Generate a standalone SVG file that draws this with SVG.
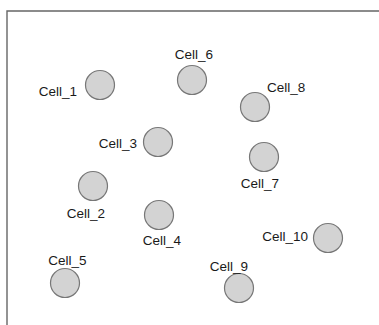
<svg xmlns="http://www.w3.org/2000/svg" width="379" height="325" viewBox="0 0 379 325">
  <style>
    .frame { fill: none; stroke: #666666; stroke-width: 1.4; }
    .cell circle { fill: #d3d3d3; stroke: #777777; stroke-width: 1.2; }
    .cell text { font-family: "Liberation Sans", Arial, sans-serif; font-size: 13.5px; fill: #1a1a1a; }
  </style>
  <rect width="379" height="325" fill="#ffffff"/>
  <!-- plot frame: top and left edges only -->
  <path class="frame" d="M7,326 V11 H380"/>
  <g id="connectors"/>
  <g id="cell_1" class="cell"><circle cx="100" cy="85" r="14.5"/><text x="77" y="96" text-anchor="end">Cell_1</text></g>
  <g id="cell_2" class="cell"><circle cx="93" cy="186" r="14.5"/><text x="86" y="218" text-anchor="middle">Cell_2</text></g>
  <g id="cell_3" class="cell"><circle cx="158" cy="142" r="14.5"/><text x="137" y="148" text-anchor="end">Cell_3</text></g>
  <g id="cell_4" class="cell"><circle cx="159" cy="215" r="14.5"/><text x="162" y="245" text-anchor="middle">Cell_4</text></g>
  <g id="cell_5" class="cell"><circle cx="65" cy="283" r="14.5"/><text x="67.5" y="265" text-anchor="middle">Cell_5</text></g>
  <g id="cell_6" class="cell"><circle cx="192" cy="80" r="14.5"/><text x="194" y="59" text-anchor="middle">Cell_6</text></g>
  <g id="cell_7" class="cell"><circle cx="264" cy="157" r="14.5"/><text x="260" y="188" text-anchor="middle">Cell_7</text></g>
  <g id="cell_8" class="cell"><circle cx="255" cy="107" r="14.5"/><text x="267" y="92">Cell_8</text></g>
  <g id="cell_9" class="cell"><circle cx="239" cy="288" r="14.5"/><text x="229" y="271" text-anchor="middle">Cell_9</text></g>
  <g id="cell_10" class="cell"><circle cx="328" cy="238" r="14.5"/><text x="308" y="241" text-anchor="end">Cell_10</text></g>
</svg>
